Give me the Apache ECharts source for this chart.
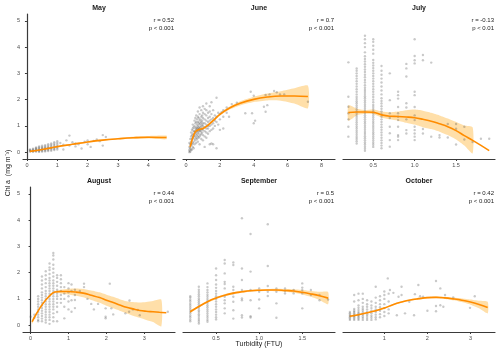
<!DOCTYPE html>
<html>
<head>
<meta charset="utf-8">
<script src="https://cdn.jsdelivr.net/npm/echarts@6/dist/echarts.min.js"></script>
<style>
  html, body { margin: 0; padding: 0; background: #fff; }
  #chart { width: 500px; height: 354px; }
</style>
</head>
<body>
<div id="chart"></div>
<script>
// ---- data ----
// scatter points as [turbidity, [chl a values...]]
const mayCols = [
  [0.1, [0.02, 0.05, 0.08, 0.1]], [0.2, [0.01, 0.04, 0.07, 0.1, 0.13]],
  [0.3, [0.02, 0.05, 0.08, 0.11, 0.15, 0.18]], [0.4, [0.01, 0.04, 0.07, 0.1, 0.14, 0.18, 0.22]],
  [0.5, [0.02, 0.05, 0.09, 0.12, 0.16, 0.2, 0.25]], [0.6, [0.03, 0.06, 0.1, 0.14, 0.18, 0.22, 0.27]],
  [0.7, [0.04, 0.08, 0.12, 0.16, 0.2, 0.25, 0.3]], [0.8, [0.05, 0.1, 0.14, 0.18, 0.23, 0.28, 0.33]],
  [0.9, [0.08, 0.12, 0.17, 0.22, 0.27, 0.32, 0.38]], [1.0, [0.1, 0.16, 0.22, 0.28, 0.35, 0.42]],
  [1.1, [0.35]], [1.2, [0.1, 0.28]], [1.3, [0.45]], [1.4, [0.25, 0.63]], [1.5, [0.38]],
  [1.6, [0.22, 0.33]], [1.7, [0.3]], [1.8, [0.14]], [1.9, [0.4]], [2.0, [0.3, 0.45]],
  [2.1, [0.2]], [2.2, [0.43]], [2.3, [0.48]], [2.4, [0.42]], [2.5, [0.25, 0.65]], [2.6, [0.58]]
];
const juneCols = [
  [0.2, [0.0, 0.05, 0.1, 0.2, 0.35]], [0.25, [0.02, 0.15, 0.3, 0.5]],
  [0.3, [0.08, 0.25, 0.4, 0.6, 0.75]], [0.35, [0.1, 0.3, 0.5, 0.65, 0.85]],
  [0.4, [0.2, 0.35, 0.55, 0.7, 0.9, 1.05]], [0.45, [0.15, 0.4, 0.6, 0.8, 0.95]],
  [0.5, [0.3, 0.5, 0.65, 0.8, 1.0, 1.2]], [0.55, [0.45, 0.6, 0.75, 0.9, 1.1, 1.3]],
  [0.6, [0.35, 0.55, 0.7, 0.85, 0.95, 1.15, 1.4]], [0.65, [0.5, 0.65, 0.8, 0.9, 1.05, 1.25]],
  [0.7, [0.4, 0.6, 0.75, 0.9, 1.0, 1.15, 1.35, 1.55]], [0.75, [0.55, 0.7, 0.85, 0.95, 1.1, 1.3]],
  [0.8, [0.3, 0.6, 0.8, 0.9, 1.05, 1.2, 1.45, 1.7]], [0.85, [0.65, 0.8, 0.95, 1.1, 1.25]],
  [0.9, [0.5, 0.7, 0.85, 1.0, 1.15, 1.35, 1.6]], [0.95, [0.75, 0.9, 1.05, 1.2, 1.4]],
  [1.0, [0.45, 0.65, 0.85, 1.0, 1.1, 1.3, 1.5, 1.75]], [1.1, [0.2, 0.6, 0.8, 0.95, 1.1, 1.25, 1.45, 1.65]],
  [1.2, [0.55, 0.75, 0.9, 1.05, 1.2, 1.4, 1.6, 1.85]], [1.3, [0.7, 0.9, 1.0, 1.15, 1.3, 1.5]],
  [1.4, [0.3, 0.8, 1.0, 1.2, 1.35, 1.55, 1.75]], [1.5, [0.33, 0.85, 1.05, 1.25, 1.45, 1.9]],
  [1.6, [0.3, 0.9, 1.1, 1.3, 1.6]], [1.7, [1.0, 1.2, 1.4]], [1.8, [0.15, 1.15, 1.35, 2.07]],
  [1.9, [1.05, 1.5]], [2.0, [0.85, 1.25, 1.45]], [2.1, [1.52]], [2.2, [0.9, 1.35, 1.6]],
  [2.4, [1.5, 1.7]], [2.54, [1.35]], [2.7, [1.83]], [3.0, [1.88]], [3.5, [1.48]],
  [3.82, [2.3]], [3.9, [1.48]], [4.0, [1.1, 2.15]], [4.08, [1.2]], [4.6, [1.73]],
  [4.7, [1.54, 2.18]], [4.8, [1.79]], [4.93, [2.2]], [5.2, [2.33]], [5.36, [2.28]],
  [5.55, [2.2]], [5.8, [2.2]], [7.2, [1.92]]
];
const julyCols = [
  [0.2, [0.59, 0.97, 1.25, 1.48, 1.73, 2.11, 3.42]],
  [0.3, [0.33, 0.42, 0.5, 0.58, 0.66, 0.74, 0.82, 0.9, 0.98, 1.06, 1.14, 1.22, 1.3, 1.38, 1.46, 1.54,
         1.62, 1.7, 1.78, 1.86, 1.94, 2.02, 2.1, 2.2, 2.3, 2.4, 2.5, 2.6, 2.7, 2.8, 2.9, 3.0, 3.1, 3.19]],
  [0.4, [0.05, 0.13, 0.21, 0.29, 0.37, 0.45, 0.53, 0.61, 0.69, 0.77, 0.85, 0.93, 1.01, 1.09, 1.17, 1.25,
         1.33, 1.41, 1.49, 1.57, 1.65, 1.73, 1.81, 1.89, 1.97, 2.05, 2.13, 2.21, 2.29, 2.37, 2.45, 2.55,
         2.65, 2.75, 2.85, 2.95, 3.05, 3.15, 3.25, 3.35, 3.45, 3.55, 3.65, 3.8, 4.0, 4.15, 4.3, 4.43]],
  [0.5, [0.2, 0.28, 0.36, 0.44, 0.52, 0.6, 0.68, 0.76, 0.84, 0.92, 1.0, 1.08, 1.16, 1.24, 1.32, 1.4,
         1.48, 1.56, 1.64, 1.72, 1.8, 1.9, 2.0, 2.1, 2.2, 2.3, 2.4, 2.5, 2.6, 2.7, 2.8, 2.9, 3.0, 3.1,
         3.2, 3.3, 3.4, 3.51, 3.75, 3.9, 4.05, 4.2, 4.3]],
  [0.6, [0.15, 0.25, 0.35, 0.45, 0.55, 0.65, 0.75, 0.85, 0.95, 1.05, 1.15, 1.25, 1.35, 1.45, 1.55,
         1.65, 1.75, 1.85, 1.95, 2.05, 2.2, 2.35, 2.5, 2.65, 2.8, 2.95, 3.1, 3.28]],
  [0.7, [0.21, 0.46, 0.72, 0.97, 1.3, 1.48, 1.98, 3.0]],
  [0.8, [0.46, 0.59, 0.65, 0.97, 1.22, 1.35, 1.48, 1.72, 2.04, 2.17, 2.3]],
  [0.9, [0.71, 0.84, 1.25, 1.7, 1.86, 2.88, 3.19, 3.36]],
  [1.0, [0.46, 0.59, 0.71, 0.84, 0.97, 1.22, 1.4, 1.72, 2.17, 2.3, 3.38, 3.5, 3.66, 4.3]],
  [1.1, [0.71, 0.88, 3.5, 3.7]], [1.2, [0.59, 3.41]], [1.3, [0.56, 0.65]], [1.4, [0.56, 1.07]],
  [1.5, [0.29, 0.89, 1.07]], [1.6, [0.48, 0.97]], [1.7, [0.39]], [1.8, [0.51]], [1.9, [0.51]]
];
const augustCols = [
  [0.0, [0.32]], [0.1, [0.28, 0.4]],
  [0.2, [0.15, 0.2, 0.3, 0.4, 0.5, 0.6, 0.7, 0.8, 0.9, 1.0, 1.1]],
  [0.3, [0.15, 0.25, 0.35, 0.45, 0.55, 0.65, 0.75, 0.85, 0.95, 1.05, 1.15, 1.25, 1.4, 1.55, 1.7, 1.85]],
  [0.4, [0.1, 0.2, 0.3, 0.4, 0.5, 0.6, 0.7, 0.8, 0.9, 1.0, 1.1, 1.2, 1.3, 1.45, 1.6, 1.75, 1.9, 2.05]],
  [0.5, [0.05, 0.2, 0.3, 0.4, 0.5, 0.6, 0.7, 0.8, 0.9, 1.0, 1.1, 1.2, 1.3, 1.4, 1.5, 1.6, 1.7, 1.8,
         1.95, 2.1, 2.2, 2.35]],
  [0.6, [0.15, 0.3, 0.45, 0.6, 0.7, 0.8, 0.9, 1.0, 1.1, 1.2, 1.3, 1.4, 1.5, 1.6, 1.7, 1.85, 2.0,
         2.15, 2.3, 2.5, 2.65, 2.75]],
  [0.7, [0.15, 0.5, 0.7, 0.85, 1.0, 1.1, 1.2, 1.35, 1.5, 1.65, 1.8, 1.9]],
  [0.8, [0.85, 1.0, 1.15, 1.3, 1.45, 1.6, 1.75, 1.9]],
  [0.89, [0.26, 0.7, 1.0, 1.2, 1.45]], [1.0, [0.6, 0.9, 1.1, 1.25, 1.4, 1.6]],
  [1.08, [0.51, 0.95, 1.3, 1.55]], [1.17, [0.65, 0.96, 1.15, 1.35]], [1.3, [1.3]],
  [1.41, [1.45, 1.58]], [1.5, [1.0]], [1.6, [0.81]], [1.67, [0.6]], [1.78, [0.81]],
  [1.98, [0.26, 0.32, 0.64]], [2.09, [1.58]], [2.13, [0.64]], [2.18, [0.41]],
  [2.5, [0.45]], [2.6, [0.51]], [2.61, [0.94]], [2.7, [0.6]], [2.83, [0.58]], [2.88, [0.38]],
  [3.62, [0.51]]
];
const septemberCols = [
  [0.2, [0.15, 0.22, 0.3, 0.37, 0.45, 0.52, 0.6, 0.67, 0.75, 0.82, 0.9, 0.97, 1.05, 1.1]],
  [0.3, [0.06, 0.13, 0.2, 0.27, 0.35, 0.42, 0.5, 0.57, 0.65, 0.72, 0.8, 0.87, 0.95, 1.02, 1.1, 1.18,
         1.26, 1.35, 1.46]],
  [0.4, [0.13, 0.2, 0.28, 0.36, 0.44, 0.52, 0.6, 0.68, 0.76, 0.84, 0.92, 1.0, 1.08, 1.16, 1.25, 1.34,
         1.45, 1.59]],
  [0.5, [0.22, 0.3, 0.4, 0.5, 0.6, 0.7, 0.8, 0.9, 1.0, 1.1, 1.2, 1.3, 1.42, 1.55, 1.72, 1.9, 2.16]],
  [0.6, [0.45, 0.64, 0.83, 0.95, 1.08, 1.4, 1.57, 1.65, 1.97, 2.35, 2.48]],
  [0.7, [0.25, 0.57, 0.89, 1.08, 1.21, 1.34, 1.46, 2.29, 2.39]],
  [0.8, [0.29, 0.38, 0.95, 1.02, 1.34, 1.72, 2.16, 4.07]],
  [0.9, [0.29, 0.34, 0.95, 1.34, 2.04, 3.47]], [1.0, [0.64, 0.98, 1.27, 1.4]],
  [1.1, [1.11, 1.27, 1.49, 2.25, 3.84]], [1.2, [0.28, 0.83, 1.27, 1.4]], [1.3, [1.21, 1.3, 1.4]],
  [1.4, [1.21, 1.34]], [1.5, [0.64, 1.21, 1.34, 1.43, 1.59]], [1.6, [1.15, 1.34]],
  [1.7, [0.95, 1.15]], [1.8, [0.98]]
];
const octoberCols = [
  [0.2, [0.2, 0.25, 0.3, 0.35, 0.4, 0.45, 0.5]],
  [0.3, [0.2, 0.25, 0.3, 0.35, 0.4, 0.45, 0.5, 0.55, 0.62, 0.9, 1.15]],
  [0.4, [0.2, 0.25, 0.3, 0.35, 0.4, 0.45, 0.5, 0.58, 0.66, 0.75, 0.95, 1.2]],
  [0.5, [0.2, 0.27, 0.33, 0.4, 0.47, 0.55, 0.62, 0.7, 0.85, 1.0, 1.2]],
  [0.6, [0.2, 0.27, 0.35, 0.42, 0.5, 0.6, 0.7, 0.8, 0.95]],
  [0.7, [0.2, 0.28, 0.36, 0.45, 0.55, 0.65, 0.75, 0.9]],
  [0.8, [0.22, 0.3, 0.4, 0.5, 0.6, 0.7, 0.85, 1.05, 1.46]],
  [0.9, [0.3, 0.42, 0.55, 0.68, 0.8, 0.95, 1.1]],
  [1.0, [0.35, 0.5, 0.65, 0.8, 1.0, 1.15, 1.28]], [1.08, [1.78]],
  [1.1, [0.45, 0.6, 0.9, 1.2]], [1.13, [1.34]], [1.21, [1.23]], [1.29, [0.38]], [1.33, [1.08]],
  [1.4, [1.15, 1.46]], [1.48, [0.45]], [1.58, [0.89]], [1.69, [0.38]], [1.71, [1.18]],
  [1.79, [1.53]], [1.83, [1.1]], [1.9, [1.08]], [2.0, [0.55]], [2.2, [0.53, 0.73, 1.68]],
  [2.3, [0.76, 1.4]], [2.37, [0.7]], [2.41, [1.15]], [2.6, [1.06]], [2.99, [0.66]], [3.1, [1.1]]
];

// fitted smooth curves and confidence bands
const mayFitX = [0.1, 0.5, 1.0, 1.5, 2.0, 2.5, 3.0, 3.5, 4.0, 4.6];
const mayFitY = [0.03, 0.1, 0.21, 0.3, 0.39, 0.46, 0.51, 0.55, 0.57, 0.56];
const mayLo = [0.0, 0.08, 0.19, 0.28, 0.36, 0.43, 0.48, 0.51, 0.52, 0.49];
const mayHi = [0.06, 0.12, 0.23, 0.32, 0.42, 0.49, 0.54, 0.59, 0.62, 0.63];

const juneFitX = [0.24, 0.4, 0.55, 0.8, 1.0, 1.3, 1.6, 2.0, 2.6, 3.2, 4.0, 4.8, 5.6, 6.4, 7.2];
const juneFitY = [0.2, 0.55, 0.78, 0.87, 0.9, 1.03, 1.2, 1.44, 1.69, 1.86, 2.01, 2.1, 2.14, 2.14, 2.12];
const juneLo = [0.08, 0.47, 0.72, 0.82, 0.86, 0.99, 1.16, 1.39, 1.63, 1.78, 1.91, 1.97, 1.96, 1.85, 1.67];
const juneHi = [0.32, 0.63, 0.84, 0.92, 0.95, 1.07, 1.24, 1.49, 1.75, 1.94, 2.11, 2.23, 2.32, 2.43, 2.53];

const julyFitX = [0.2, 0.3, 0.4, 0.5, 0.6, 0.7, 0.8, 0.9, 1.0, 1.1, 1.2, 1.3, 1.4, 1.5, 1.6, 1.7, 1.8, 1.9];
const julyFitY = [1.51, 1.53, 1.53, 1.52, 1.42, 1.37, 1.36, 1.34, 1.31, 1.25, 1.18, 1.08, 0.97, 0.82, 0.63, 0.45, 0.26, 0.06];
const julyBandX = [0.2, 0.3, 0.4, 0.5, 0.6, 0.7, 0.8, 0.9, 1.0, 1.1, 1.2, 1.3, 1.4, 1.5, 1.6, 1.7];
const julyLo = [1.2, 1.4, 1.46, 1.44, 1.32, 1.25, 1.2, 1.12, 1.05, 0.95, 0.88, 0.78, 0.65, 0.48, 0.25, -0.05];
const julyHi = [1.79, 1.66, 1.6, 1.62, 1.55, 1.52, 1.55, 1.6, 1.62, 1.58, 1.5, 1.4, 1.28, 1.15, 1.02, 0.95];

const augustFitX = [0.04, 0.16, 0.33, 0.51, 0.64, 0.8, 1.0, 1.2, 1.39, 1.6, 1.82, 2.0, 2.18, 2.35, 2.53, 2.7, 2.88, 3.05, 3.23, 3.4, 3.58];
const augustFitY = [0.13, 0.45, 0.83, 1.13, 1.26, 1.28, 1.28, 1.26, 1.22, 1.14, 1.05, 0.95, 0.86, 0.77, 0.68, 0.62, 0.56, 0.53, 0.51, 0.49, 0.47];
const augustBandX = [0.04, 0.16, 0.33, 0.51, 0.64, 0.8, 1.0, 1.2, 1.39, 1.6, 1.82, 2.0, 2.18, 2.35, 2.53, 2.7, 2.88, 3.05, 3.23, 3.45];
const augustLo = [0.05, 0.4, 0.79, 1.09, 1.22, 1.21, 1.17, 1.12, 1.06, 0.96, 0.85, 0.74, 0.64, 0.55, 0.45, 0.36, 0.28, 0.2, 0.12, -0.04];
const augustHi = [0.21, 0.5, 0.87, 1.17, 1.3, 1.35, 1.39, 1.4, 1.38, 1.32, 1.25, 1.16, 1.08, 0.99, 0.91, 0.88, 0.86, 0.88, 0.92, 0.97];

const septemberFitX = [0.2, 0.3, 0.4, 0.5, 0.6, 0.7, 0.8, 0.9, 1.0, 1.1, 1.2, 1.3, 1.4, 1.5, 1.6, 1.7, 1.8];
const septemberFitY = [0.51, 0.71, 0.89, 1.03, 1.14, 1.22, 1.27, 1.31, 1.33, 1.34, 1.34, 1.32, 1.3, 1.25, 1.19, 1.12, 1.03];
const septemberLo = [0.46, 0.67, 0.85, 0.99, 1.1, 1.18, 1.23, 1.27, 1.29, 1.3, 1.29, 1.27, 1.23, 1.17, 1.08, 0.96, 0.8];
const septemberHi = [0.56, 0.75, 0.93, 1.07, 1.18, 1.26, 1.31, 1.35, 1.37, 1.38, 1.39, 1.38, 1.37, 1.34, 1.3, 1.27, 1.26];

const octoberFitX = [0.2, 0.4, 0.6, 0.8, 1.0, 1.2, 1.4, 1.6, 1.8, 2.0, 2.2, 2.4, 2.6, 2.8, 3.0, 3.2, 3.4];
const octoberFitY = [0.34, 0.4, 0.47, 0.55, 0.65, 0.78, 0.88, 0.96, 1.01, 1.05, 1.06, 1.04, 1.0, 0.95, 0.88, 0.79, 0.67];
const octoberLo = [0.3, 0.37, 0.44, 0.52, 0.62, 0.75, 0.85, 0.93, 0.98, 1.02, 1.03, 1.0, 0.95, 0.88, 0.78, 0.64, 0.45];
const octoberHi = [0.38, 0.43, 0.5, 0.58, 0.68, 0.81, 0.91, 0.99, 1.04, 1.08, 1.1, 1.08, 1.05, 1.02, 0.98, 0.93, 0.89];

// tick labels
const yTicks = [0, 1, 2, 3, 4, 5];
const mayTicks = [0, 1, 2, 3, 4];
const juneTicks = [0, 2, 4, 6, 8];
const julyTicks = [0.5, 1.0, 1.5];
const augustTicks = [0, 1, 2, 3];
const septemberTicks = [0.5, 1.0, 1.5];
const octoberTicks = [1, 2, 3];

const months = ['May', 'June', 'July', 'August', 'September', 'October'];
const rLabels = ['r = 0.52', 'r = 0.7', 'r = -0.13', 'r = 0.44', 'r = 0.5', 'r = 0.42'];
const pLabels = ['p < 0.001', 'p < 0.001', 'p < 0.01', 'p < 0.001', 'p < 0.001', 'p < 0.001'];

// ---- layout ----
const FONT = 'Liberation Sans';
const colLeft = [23, 183, 343];
const rowTop = [14, 187];
const panelW = 152, panelH = 145;
const axisColor = '#3a3a3a';

const panels = [
  { cols: mayCols, fx: mayFitX, fy: mayFitY, bx: mayFitX, lo: mayLo, hi: mayHi, xMin: -0.13, xMax: 4.88, ticks: mayTicks, dec: 0 },
  { cols: juneCols, fx: juneFitX, fy: juneFitY, bx: juneFitX, lo: juneLo, hi: juneHi, xMin: -0.18, xMax: 8.8, ticks: juneTicks, dec: 0 },
  { cols: julyCols, fx: julyFitX, fy: julyFitY, bx: julyBandX, lo: julyLo, hi: julyHi, xMin: 0.135, xMax: 1.97, ticks: julyTicks, dec: 1 },
  { cols: augustCols, fx: augustFitX, fy: augustFitY, bx: augustBandX, lo: augustLo, hi: augustHi, xMin: -0.2, xMax: 3.81, ticks: augustTicks, dec: 0 },
  { cols: septemberCols, fx: septemberFitX, fy: septemberFitY, bx: septemberFitX, lo: septemberLo, hi: septemberHi, xMin: 0.116, xMax: 1.88, ticks: septemberTicks, dec: 1 },
  { cols: octoberCols, fx: octoberFitX, fy: octoberFitY, bx: octoberFitX, lo: octoberLo, hi: octoberHi, xMin: 0.04, xMax: 3.57, ticks: octoberTicks, dec: 0 }
];

function flat(cols) {
  const out = [];
  cols.forEach(function (c) { c[1].forEach(function (y) { out.push([c[0], y]); }); });
  return out;
}

const grids = [], xAxes = [], yAxes = [], series = [], graphics = [];

panels.forEach(function (p, i) {
  const col = i % 3, row = Math.floor(i / 3);
  const left = colLeft[col], top = rowTop[row];
  grids.push({ left: left, top: top, width: panelW, height: panelH });

  xAxes.push({
    gridIndex: i, type: 'value', min: p.xMin, max: p.xMax,
    axisLine: { show: true, onZero: false, lineStyle: { color: axisColor, width: 1.2 } },
    axisTick: { show: true, length: 2, customValues: p.ticks, lineStyle: { color: axisColor } },
    axisLabel: {
      customValues: p.ticks, color: '#4d4d4d', fontSize: 5.5, fontFamily: FONT, margin: 3,
      formatter: function (v) { return Number(v).toFixed(p.dec); }
    },
    splitLine: { show: false }
  });

  yAxes.push({
    gridIndex: i, type: 'value', min: -0.26, max: 5.26, show: col === 0,
    axisLine: { show: true, lineStyle: { color: axisColor, width: 1.2 } },
    axisTick: { show: true, length: 2, customValues: yTicks, lineStyle: { color: axisColor } },
    axisLabel: { customValues: yTicks, color: '#4d4d4d', fontSize: 5.5, fontFamily: FONT, margin: 3 },
    splitLine: { show: false }
  });

  series.push({
    type: 'scatter', xAxisIndex: i, yAxisIndex: i, data: flat(p.cols),
    symbolSize: 2.4, itemStyle: { color: 'rgba(60,60,60,0.35)' }, silent: true
  });

  // confidence band as polygon through the axis scales
  series.push({
    type: 'custom', xAxisIndex: i, yAxisIndex: i, silent: true, clip: true,
    data: [[p.bx[0], p.lo[0]]],
    renderItem: function (params, api) {
      const pts = [];
      for (let k = 0; k < p.bx.length; k++) pts.push(api.coord([p.bx[k], p.hi[k]]));
      for (let k = p.bx.length - 1; k >= 0; k--) pts.push(api.coord([p.bx[k], p.lo[k]]));
      return {
        type: 'polygon', shape: { points: pts, smooth: 0.2 },
        style: { fill: 'rgba(255,170,30,0.38)', stroke: null }
      };
    }
  });

  series.push({
    type: 'line', xAxisIndex: i, yAxisIndex: i, silent: true,
    data: p.fx.map(function (x, k) { return [x, p.fy[k]]; }),
    smooth: 0.4, showSymbol: false, lineStyle: { color: '#ff8c00', width: 1.6 }
  });

  // strip title + r / p annotations
  graphics.push({
    type: 'text', x: left + panelW / 2, y: top - 6,
    style: { text: months[i], align: 'center', verticalAlign: 'middle', fontSize: 7, fontWeight: 'bold', fontFamily: FONT, fill: '#1a1a1a' }
  });
  graphics.push({
    type: 'text', x: left + panelW - 1, y: top + 6,
    style: { text: rLabels[i], align: 'right', verticalAlign: 'middle', fontSize: 6, fontFamily: FONT, fill: '#1a1a1a' }
  });
  graphics.push({
    type: 'text', x: left + panelW - 1, y: top + 14.5,
    style: { text: pLabels[i], align: 'right', verticalAlign: 'middle', fontSize: 6, fontFamily: FONT, fill: '#1a1a1a' }
  });
});

graphics.push({
  type: 'text', x: 8, y: 173, rotation: Math.PI / 2,
  style: { text: 'Chl a  (mg m\u207B\u00B3)', align: 'center', verticalAlign: 'middle', fontSize: 7, fontFamily: FONT, fill: '#1a1a1a' }
});
graphics.push({
  type: 'text', x: 259, y: 344,
  style: { text: 'Turbidity (FTU)', align: 'center', verticalAlign: 'middle', fontSize: 7, fontFamily: FONT, fill: '#1a1a1a' }
});

const myChart = echarts.init(document.getElementById('chart'), null, { renderer: 'canvas' });
myChart.setOption({
  animation: false,
  backgroundColor: '#ffffff',
  grid: grids,
  xAxis: xAxes,
  yAxis: yAxes,
  series: series,
  graphic: graphics
});
</script>
</body>
</html>
